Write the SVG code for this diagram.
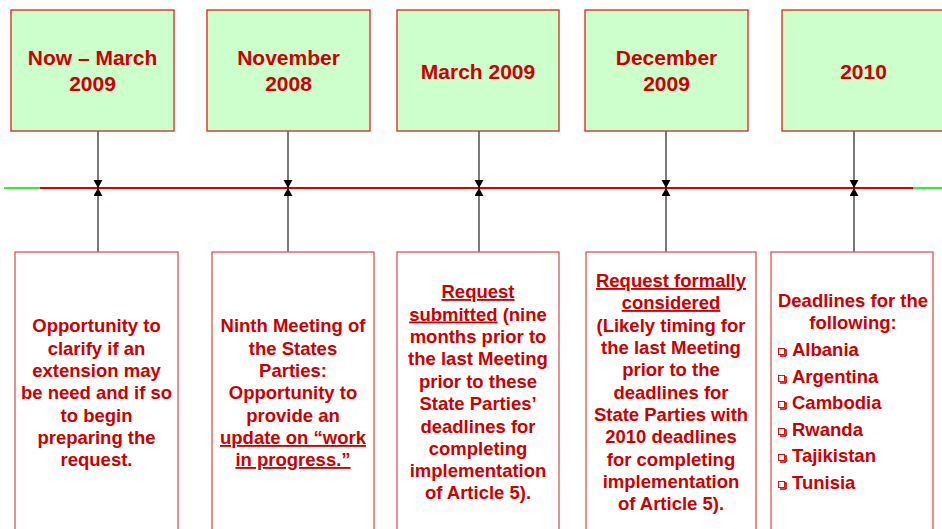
<svg xmlns="http://www.w3.org/2000/svg" width="942" height="529" viewBox="0 0 942 529">
<defs>
<style>
.top{fill:#CCFFCC;stroke:#DD2222;stroke-width:1.3}
.bot{fill:#FFFFFF;stroke:#E05555;stroke-width:1.3}
.tt{font-family:"Liberation Sans",Arial,sans-serif;font-weight:bold;font-size:21px;fill:#CC0000;text-anchor:middle}
.bt{font-family:"Liberation Sans",Arial,sans-serif;font-weight:bold;font-size:18.5px;fill:#CC0000;text-anchor:middle}
.bl{font-family:"Liberation Sans",Arial,sans-serif;font-weight:bold;font-size:18.5px;fill:#CC0000}
.u{text-decoration:underline}
.con{stroke:#222;stroke-width:1.2;fill:none;marker-end:url(#ah)}
.bul{fill:#fff;stroke:#CC0000;stroke-width:0.9}
</style>
<marker id="ah" markerUnits="userSpaceOnUse" markerWidth="12" markerHeight="12" refX="8" refY="4.5" orient="auto">
<path d="M0,0 L8,4.5 L0,9 z" fill="#000"/>
</marker>
</defs>
<rect width="942" height="529" fill="#fff"/>

<g id="timeline">
<line x1="4" y1="188" x2="45" y2="188" stroke="#33EE33" stroke-width="2"/>
<line x1="913" y1="188" x2="942" y2="188" stroke="#33EE33" stroke-width="2"/>
<line x1="40" y1="188" x2="913" y2="188" stroke="#DD0000" stroke-width="2"/>
</g>

<g id="connectors">
<line class="con" x1="98" y1="131" x2="98" y2="188"/>
<line class="con" x1="98" y1="252" x2="98" y2="188"/>
<line class="con" x1="288" y1="131" x2="288" y2="188"/>
<line class="con" x1="288" y1="252" x2="288" y2="188"/>
<line class="con" x1="479" y1="131" x2="479" y2="188"/>
<line class="con" x1="479" y1="252" x2="479" y2="188"/>
<line class="con" x1="666" y1="131" x2="666" y2="188"/>
<line class="con" x1="666" y1="252" x2="666" y2="188"/>
<line class="con" x1="854" y1="131" x2="854" y2="188"/>
<line class="con" x1="854" y1="252" x2="854" y2="188"/>
</g>

<g id="date1">
<rect class="top" x="11" y="10" width="163" height="121"/>
<text class="tt" x="92.5" y="65">Now – March</text>
<text class="tt" x="92.5" y="91">2009</text>
</g>
<g id="date2">
<rect class="top" x="207" y="10" width="163" height="121"/>
<text class="tt" x="288.5" y="65">November</text>
<text class="tt" x="288.5" y="91">2008</text>
</g>
<g id="date3">
<rect class="top" x="397" y="10" width="162" height="121"/>
<text class="tt" x="478" y="79">March 2009</text>
</g>
<g id="date4">
<rect class="top" x="585" y="10" width="163" height="121"/>
<text class="tt" x="666.5" y="65">December</text>
<text class="tt" x="666.5" y="91">2009</text>
</g>
<g id="date5">
<rect class="top" x="782" y="10" width="163" height="121"/>
<text class="tt" x="863.5" y="79">2010</text>
</g>

<g id="desc1">
<rect class="bot" x="15" y="252" width="163" height="290"/>
<text class="bt" x="96.5" y="332">Opportunity to</text>
<text class="bt" x="96.5" y="354.5">clarify if an</text>
<text class="bt" x="96.5" y="377">extension may</text>
<text class="bt" x="96.5" y="399">be need and if so</text>
<text class="bt" x="96.5" y="421.5">to begin</text>
<text class="bt" x="96.5" y="444">preparing the</text>
<text class="bt" x="96.5" y="466">request.</text>
</g>

<g id="desc2">
<rect class="bot" x="212" y="252" width="162" height="290"/>
<text class="bt" x="293" y="332">Ninth Meeting of</text>
<text class="bt" x="293" y="354.5">the States</text>
<text class="bt" x="293" y="377">Parties:</text>
<text class="bt" x="293" y="399">Opportunity to</text>
<text class="bt" x="293" y="421.5">provide an</text>
<text class="bt u" x="293" y="444">update on “work</text>
<text class="bt u" x="293" y="466">in progress.”</text>
</g>

<g id="desc3">
<rect class="bot" x="397" y="252" width="162" height="290"/>
<text class="bt u" x="478" y="298">Request</text>
<text class="bt" x="478" y="320.5"><tspan class="u">submitted</tspan> (nine</text>
<text class="bt" x="478" y="343">months prior to</text>
<text class="bt" x="478" y="365">the last Meeting</text>
<text class="bt" x="478" y="388">prior to these</text>
<text class="bt" x="478" y="410">State Parties’</text>
<text class="bt" x="478" y="432.5">deadlines for</text>
<text class="bt" x="478" y="455">completing</text>
<text class="bt" x="478" y="477">implementation</text>
<text class="bt" x="478" y="499">of Article 5).</text>
</g>

<g id="desc4">
<rect class="bot" x="586" y="252" width="170" height="290"/>
<text class="bt u" x="671" y="287">Request formally</text>
<text class="bt u" x="671" y="309">considered</text>
<text class="bt" x="671" y="331.5">(Likely timing for</text>
<text class="bt" x="671" y="354">the last Meeting</text>
<text class="bt" x="671" y="376">prior to the</text>
<text class="bt" x="671" y="398.5">deadlines for</text>
<text class="bt" x="671" y="421">State Parties with</text>
<text class="bt" x="671" y="443">2010 deadlines</text>
<text class="bt" x="671" y="465.5">for completing</text>
<text class="bt" x="671" y="488">implementation</text>
<text class="bt" x="671" y="510">of Article 5).</text>
</g>

<g id="desc5">
<rect class="bot" x="771" y="252" width="162" height="290"/>
<text class="bt" x="853" y="307">Deadlines for the</text>
<text class="bt" x="853" y="329">following:</text>
<g id="bullets">
<path d="M780,350 h6 v6 M780,356 h6" stroke="#CC0000" stroke-width="1.6" fill="none"/>
<rect class="bul" x="778.5" y="348.5" width="6" height="6"/>
<path d="M780,377 h6 v6 M780,383 h6" stroke="#CC0000" stroke-width="1.6" fill="none"/>
<rect class="bul" x="778.5" y="375.5" width="6" height="6"/>
<path d="M780,403 h6 v6 M780,409 h6" stroke="#CC0000" stroke-width="1.6" fill="none"/>
<rect class="bul" x="778.5" y="401.5" width="6" height="6"/>
<path d="M780,430 h6 v6 M780,436 h6" stroke="#CC0000" stroke-width="1.6" fill="none"/>
<rect class="bul" x="778.5" y="428.5" width="6" height="6"/>
<path d="M780,456 h6 v6 M780,462 h6" stroke="#CC0000" stroke-width="1.6" fill="none"/>
<rect class="bul" x="778.5" y="454.5" width="6" height="6"/>
<path d="M780,483 h6 v6 M780,489 h6" stroke="#CC0000" stroke-width="1.6" fill="none"/>
<rect class="bul" x="778.5" y="481.5" width="6" height="6"/>
</g>
<text class="bl" x="792" y="356">Albania</text>
<text class="bl" x="792" y="383">Argentina</text>
<text class="bl" x="792" y="409">Cambodia</text>
<text class="bl" x="792" y="436">Rwanda</text>
<text class="bl" x="792" y="462">Tajikistan</text>
<text class="bl" x="792" y="489">Tunisia</text>
</g>
</svg>
